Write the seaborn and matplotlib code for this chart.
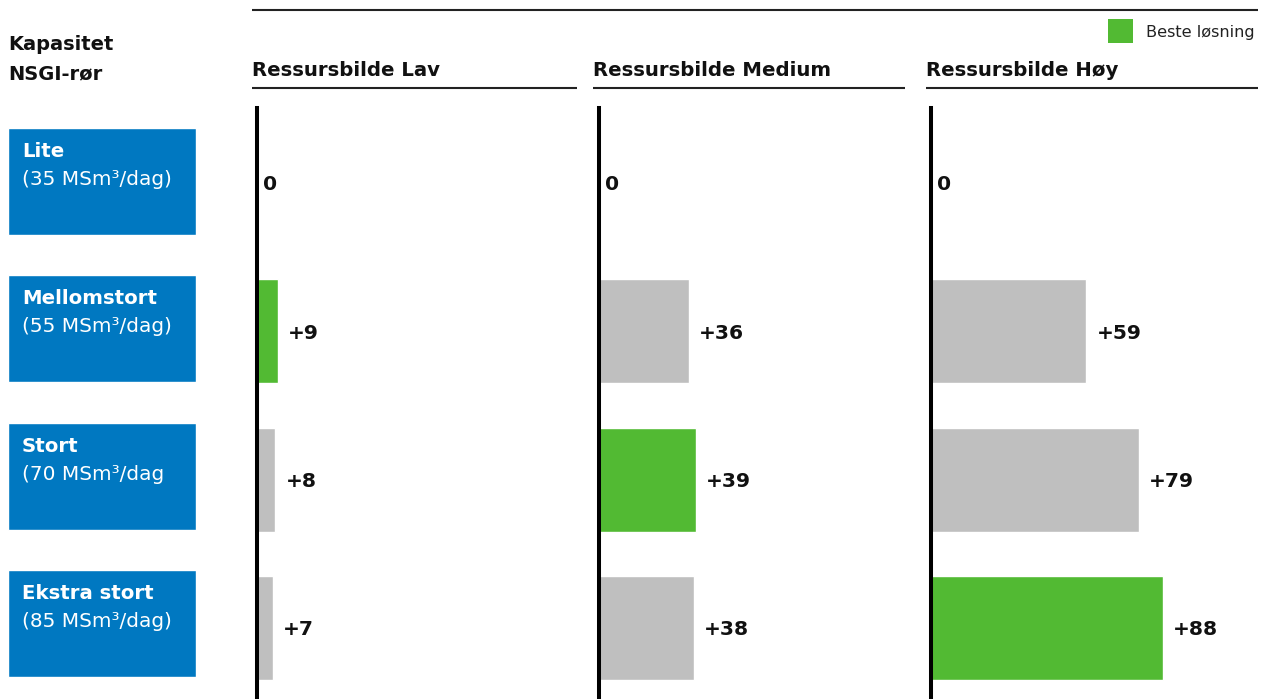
import matplotlib
matplotlib.use("Agg")
import matplotlib.pyplot as plt
from matplotlib.patches import Rectangle
import seaborn as sns

# ---- data ----
capacity_names = ["Lite", "Mellomstort", "Stort", "Ekstra stort"]
capacity_notes = ["(35 MSm³/dag)", "(55 MSm³/dag)", "(70 MSm³/dag", "(85 MSm³/dag)"]
scenarios = ["Ressursbilde Lav", "Ressursbilde Medium", "Ressursbilde Høy"]
values_lav = [0, 9, 8, 7]
values_medium = [0, 36, 39, 38]
values_hoy = [0, 59, 79, 88]
best_lav = [False, True, False, False]
best_medium = [False, False, True, False]
best_hoy = [False, False, False, True]
legend_label = "Beste løsning"
row_title = ["Kapasitet", "NSGI-rør"]

# ---- style ----
BLUE = "#0078C1"
GREEN = "#52BA33"
GREY = "#BFBFBF"
INK = "#111111"

sns.set_style("white")
plt.rcParams["font.family"] = ["DejaVu Sans"]

W, H = 1265, 699
fig = plt.figure(figsize=(W / 100, H / 100), dpi=100)
fig.patch.set_facecolor("white")


def rect(x0, y0, x1, y1):
    """Figure-fraction rectangle from pixel bounds (top-left origin)."""
    return [x0 / W, 1 - y1 / H, (x1 - x0) / W, (y1 - y0) / H]


def clean(ax):
    ax.set_xlabel("")
    ax.set_ylabel("")
    ax.set_xticks([])
    ax.set_yticks([])
    for s in ["top", "right", "bottom", "left"]:
        ax.spines[s].set_visible(False)


# ---- left column: capacity boxes ----
axb = fig.add_axes(rect(8, 108, 196, 699))
sns.barplot(x=[1] * len(capacity_names), y=capacity_names, color=BLUE,
            saturation=1, width=0.726, orient="h", ax=axb)
axb.set_xlim(0, 1)
axb.set_ylim(3.513, -0.499)
clean(axb)
for i, (name, note) in enumerate(zip(capacity_names, capacity_notes)):
    axb.text(0.0745, i - 0.166, name, color="white", fontsize=14.2,
             fontweight="bold", va="baseline", ha="left")
    axb.text(0.0745, i + 0.024, note, color="white", fontsize=14.4,
             va="baseline", ha="left")

# ---- scenario panels ----
panels = [
    (values_lav, best_lav, (257, 577), 2.30),
    (values_medium, best_medium, (599, 905), 2.49),
    (values_hoy, best_hoy, (931, 1258), 2.635),
]
for vals, best, (x0, x1), px_per_unit in panels:
    ax = fig.add_axes(rect(x0, 108, x1, 699))
    colors = [GREEN if b else GREY for b in best]
    sns.barplot(x=vals, y=capacity_names, hue=capacity_names, palette=colors,
                saturation=1, width=0.70, orient="h", legend=False,
                dodge=False, ax=ax)
    ax.set_xlim(0, (x1 - x0) / px_per_unit)
    ax.set_ylim(3.479, -0.506)
    clean(ax)
    ax.spines["left"].set_visible(True)
    ax.spines["left"].set_color("black")
    ax.spines["left"].set_linewidth(2.9)
    for i, v in enumerate(vals):
        label = f"+{v}" if v > 0 else "0"
        off = 7.2 if v > 0 else 4.3
        ax.annotate(label, xy=(v, i), xytext=(off, -1.4), textcoords="offset points",
                    ha="left", va="center", fontsize=14.6, fontweight="bold",
                    color=INK)
    ax.patch.set_alpha(0)

# ---- headers, rules and legend (pixel overlay) ----
ov = fig.add_axes([0, 0, 1, 1])
ov.set_xlim(0, W)
ov.set_ylim(H, 0)
ov.axis("off")
ov.patch.set_alpha(0)

ov.plot([252, 1258], [10, 10], color="#222222", lw=1.5, solid_capstyle="butt")
header_spans = [(252, 577), (593, 905), (926, 1258)]
for title, (a, b) in zip(scenarios, header_spans):
    ov.text(a, 76, title, fontsize=14.2, fontweight="bold", color=INK,
            ha="left", va="baseline")
    ov.plot([a, b], [88, 88], color="#222222", lw=1.5, solid_capstyle="butt")

ov.text(8, 50, row_title[0], fontsize=14, fontweight="bold", color=INK,
        ha="left", va="baseline")
ov.text(8, 79, row_title[1], fontsize=14, fontweight="bold", color=INK,
        ha="left", va="baseline")

ov.add_patch(Rectangle((1108, 19), 25, 24, facecolor=GREEN, edgecolor="none"))
ov.text(1146, 32, legend_label, fontsize=11.6, color="#222222",
        ha="left", va="center")

fig.savefig("out.png", dpi=100, facecolor="white")
